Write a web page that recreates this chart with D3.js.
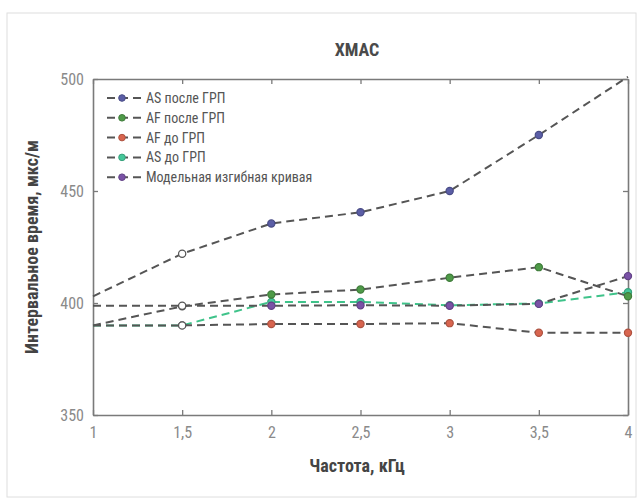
<!DOCTYPE html>
<html><head><meta charset="utf-8">
<script src="https://cdn.jsdelivr.net/npm/d3@7"></script>
<style>
body{margin:0;background:#fff;}
svg{display:block;}
</style></head>
<body>
<svg id="chart" width="637" height="499"></svg>
<script>
const frequencies = [1, 1.5, 2, 2.5, 3, 3.5, 4];
const seriesNames = ["AS после ГРП", "AF после ГРП", "AF до ГРП", "AS до ГРП", "Модельная изгибная кривая"];
const asAfter   = [403, 422, 435.5, 440.5, 450, 475, 501];
const afAfter   = [390, 398.5, 403.8, 406, 411.3, 416, 403];
const afBefore  = [390, 390, 390.6, 390.6, 391, 386.7, 386.7];
const asBefore  = [390, 390, 400.5, 400.5, 399, 399.8, 404.8];
const modelCurve= [398.8, 398.8, 398.8, 399, 398.8, 399.6, 412];
const xTicks = [1, 1.5, 2, 2.5, 3, 3.5, 4];
const yTicks = [350, 400, 450, 500];
const titleText = "XMAC";
const xLabel = "Частота, кГц";
const yLabel = "Интервальное время, мкс/м";

const markerColors = ["#5b5ea6", "#4e9a48", "#d8654f", "#45c79a", "#7a52a6"];
const lineColors   = ["#555", "#555", "#555", "#3fc38a", "#555"];
const allSeries = [asAfter, afAfter, afBefore, asBefore, modelCurve];

const svg = d3.select("#chart");
const L = 93, R = 628, T = 79, B = 415;
const x = d3.scaleLinear().domain([1, 4]).range([L, R]);
const y = d3.scaleLinear().domain([350, 500]).range([B, T]);
const condensed = "'Liberation Sans Narrow','Roboto Condensed','Arial Narrow',sans-serif";

// outer frame
svg.append("rect").attr("x", 7).attr("y", 13).attr("width", 629).attr("height", 484)
  .attr("fill", "none").attr("stroke", "#dedede").attr("stroke-width", 1);

// title
svg.append("text").attr("x", 357).attr("y", 56).attr("text-anchor", "middle")
  .attr("font-family", condensed).attr("font-weight", "bold").attr("font-size", 18)
  .attr("fill", "#4a4a4a").text(titleText);

// axes
const fmt = d => String(d).replace(".", ",");
const xAxis = svg.append("g").attr("transform", `translate(0,${B})`)
  .call(d3.axisBottom(x).tickValues(xTicks).tickFormat(fmt).tickSizeInner(-5).tickSizeOuter(0).tickPadding(9));
const xTop = svg.append("g").attr("transform", `translate(0,${T})`)
  .call(d3.axisTop(x).tickValues(xTicks).tickFormat("").tickSizeInner(-5).tickSizeOuter(0));
const yAxis = svg.append("g").attr("transform", `translate(${L},0)`)
  .call(d3.axisLeft(y).tickValues(yTicks).tickSizeInner(-5).tickSizeOuter(0).tickPadding(9));
const yRight = svg.append("g").attr("transform", `translate(${R},0)`)
  .call(d3.axisRight(y).tickValues(yTicks).tickFormat("").tickSizeInner(-5).tickSizeOuter(0));
[xAxis, xTop, yAxis, yRight].forEach(g => {
  g.select(".domain").attr("stroke", "#7a7a7a").attr("stroke-width", 1.6);
  g.selectAll(".tick line").attr("stroke", "#7a7a7a").attr("stroke-width", 1.3);
  g.selectAll("text").attr("font-family", condensed).attr("font-size", 16).attr("fill", "#8a8a8a");
});
xAxis.selectAll("text").attr("dy", "0.9em");
yAxis.selectAll("text").attr("dy", "0.32em");

// axis labels
svg.append("text").attr("x", 357).attr("y", 472).attr("text-anchor", "middle")
  .attr("font-family", condensed).attr("font-weight", "bold").attr("font-size", 18)
  .attr("fill", "#444").text(xLabel);
svg.append("text").attr("transform", "translate(38,247) rotate(-90)").attr("text-anchor", "middle")
  .attr("font-family", condensed).attr("font-weight", "bold").attr("font-size", 18)
  .attr("fill", "#444").text(yLabel);

// lines
const line = d3.line().x((d, i) => x(frequencies[i])).y(d => y(d));
const drawOrder = [3, 2, 1, 4, 0];
drawOrder.forEach(s => {
  svg.append("path").datum(allSeries[s]).attr("d", line)
    .attr("fill", "none").attr("stroke", lineColors[s]).attr("stroke-width", 2)
    .attr("stroke-dasharray", "8,5");
});
drawOrder.forEach(s => {
  svg.append("g").selectAll("circle").data(allSeries[s]).join("circle")
    .attr("cx", (d, i) => x(frequencies[i])).attr("cy", d => y(d)).attr("r", 3.6)
    .attr("fill", (d, i) => i === 1 ? "#fff" : markerColors[s])
    .attr("stroke", (d, i) => i === 1 ? "#555" : d3.color(markerColors[s]).darker(0.6))
    .attr("stroke-width", 1.2)
    .attr("display", (d, i) => (i === 0 || d > 500.5) ? "none" : null);
});

// legend
const leg = svg.append("g");
seriesNames.forEach((name, i) => {
  const yy = 98 + i * 19.8;
  leg.append("line").attr("x1", 107).attr("x2", 141).attr("y1", yy).attr("y2", yy)
    .attr("stroke", "#555").attr("stroke-width", 2).attr("stroke-dasharray", "8,5");
  leg.append("circle").attr("cx", 122).attr("cy", yy).attr("r", 3.3)
    .attr("fill", markerColors[i]).attr("stroke", d3.color(markerColors[i]).darker(0.6)).attr("stroke-width", 1);
  leg.append("text").attr("x", 146).attr("y", yy).attr("dy", "0.35em")
    .attr("font-family", condensed).attr("font-size", 14).attr("fill", "#555").text(name);
});
</script>
</body></html>
